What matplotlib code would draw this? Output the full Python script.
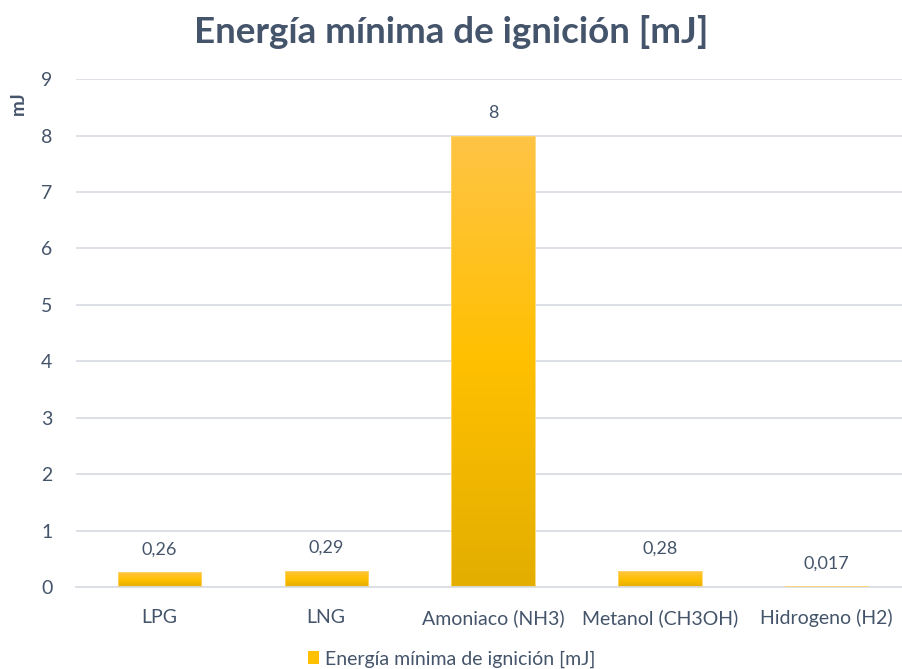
import numpy as np
import matplotlib.pyplot as plt
from matplotlib.colors import LinearSegmentedColormap
from matplotlib.patches import Rectangle

categories = ["LPG", "LNG", "Amoniaco (NH3)", "Metanol (CH3OH)", "Hidrogeno (H2)"]
energy_mj = [0.26, 0.29, 8, 0.28, 0.017]
value_labels = ["0,26", "0,29", "8", "0,28", "0,017"]

TEXT = "#44546A"
GRID = "#D9DDE4"

plt.rcParams["font.family"] = ["Lato", "DejaVu Sans"]

fig = plt.figure(figsize=(9.03, 6.69), dpi=100)
ax = fig.add_axes([0.0842, 0.1226, 0.9236, 0.759])

x = np.arange(len(categories))
bars = ax.bar(x, energy_mj, width=0.5, color="none", edgecolor="#FFD66B",
              linewidth=0.6, zorder=3, label="Energía mínima de ignición [mJ]")

# vertical gradient inside each bar: light orange top, gold middle, darker bottom
grad = LinearSegmentedColormap.from_list(
    "gold", ["#E3AE00", "#FFC000", "#FFC446"])
col = np.linspace(0, 1, 256).reshape(-1, 1)
for b in bars:
    x0, w, h = b.get_x(), b.get_width(), b.get_height()
    im = ax.imshow(col, cmap=grad, origin="lower", aspect="auto",
                   extent=[x0, x0 + w, 0, h], zorder=2)
    im.set_clip_path(b)

for xi, v, s in zip(x, energy_mj, value_labels):
    ax.annotate(s, (xi, v), xytext=(0, 10.5), textcoords="offset points",
                ha="center", va="bottom", fontsize=13, color=TEXT)

ax.set_xlim(-0.5, len(categories) - 0.5)
ax.set_ylim(0, 9)
ax.set_yticks(range(0, 10))
ax.set_xticks(x)
ax.set_xticklabels(categories)
ax.tick_params(axis="both", length=0, labelsize=14, colors=TEXT)
ax.tick_params(axis="x", pad=16)
ax.tick_params(axis="y", pad=17)
ax.grid(axis="y", color=GRID, linewidth=1.3, zorder=0)
ax.set_axisbelow(True)
for side in ["top", "right", "left"]:
    ax.spines[side].set_visible(False)
ax.spines["bottom"].set_color(GRID)
ax.spines["bottom"].set_linewidth(1.3)

fig.text(0.5, 0.952, "Energía mínima de ignición [mJ]", ha="center", va="center",
         fontsize=26.5, fontweight="bold", color=TEXT)
fig.text(0.02, 0.846, "mJ", rotation=90, ha="center", va="center",
         fontsize=13.5, fontweight="bold", color=TEXT)

handle = Rectangle((0, 0), 1, 1, facecolor="#FFC000", edgecolor="none")
fig.legend([handle], ["Energía mínima de ignición [mJ]"], loc="center",
           bbox_to_anchor=(0.5, 0.015), frameon=False, fontsize=14,
           labelcolor=TEXT, handlelength=0.6, handleheight=0.6, handletextpad=0.3)

fig.savefig("out.png", dpi=100)
